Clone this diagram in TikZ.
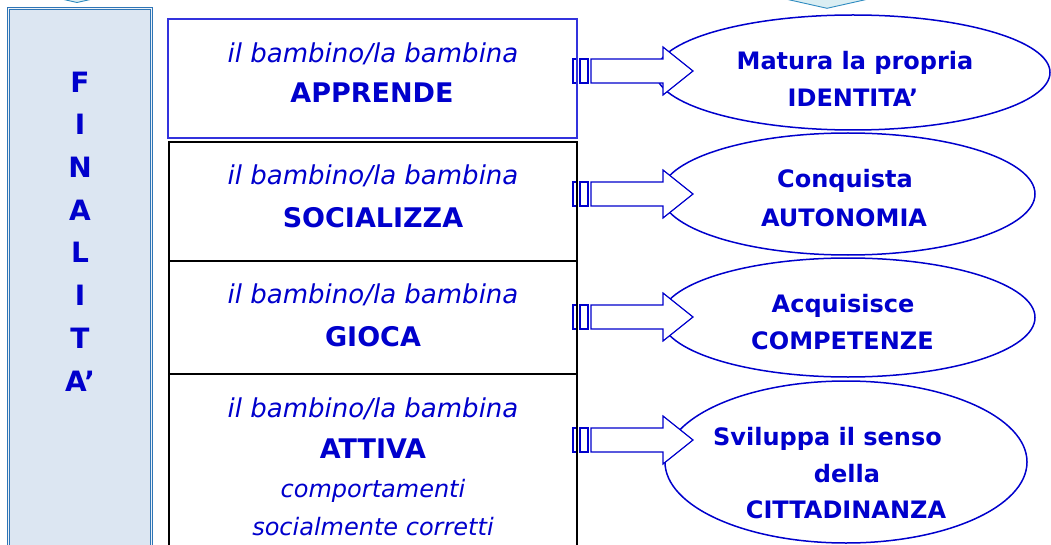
\documentclass[tikz,border=0pt]{standalone}
\usepackage{fontspec}
\setmainfont{DejaVu Sans}
\usetikzlibrary{shapes.geometric}
\definecolor{txtblue}{HTML}{0000CC}
\definecolor{boxblue}{HTML}{3333DD}
\definecolor{panelfill}{HTML}{DCE6F2}
\definecolor{panelline}{HTML}{2E75B6}
\definecolor{cyanfill}{HTML}{DAEEF3}
\definecolor{cyanline}{HTML}{2E8BC0}
\begin{document}
\begin{tikzpicture}[x=1pt,y=-1pt,
  box/.style={draw=black, line width=1.1pt, minimum width=408pt, inner sep=0pt},
  oval/.style={ellipse, draw=txtblue, line width=1.5pt, inner sep=0pt},
  ital/.style={text=txtblue, font=\fontsize{26}{30}\selectfont\itshape, anchor=base, inner sep=0pt},
  bold/.style={text=txtblue, font=\fontsize{27}{30}\selectfont\bfseries, anchor=base, inner sep=0pt},
  otext/.style={text=txtblue, font=\fontsize{24}{28}\selectfont\bfseries, anchor=base, inner sep=0pt},
  arrowline/.style={draw=txtblue, fill=white, line width=1.2pt},
  blockarr/.pic={
    \draw[arrowline] (0,-12) rectangle (4,12);
    \draw[arrowline] (7,-12) rectangle (15,12);
    \draw[arrowline] (18,-12) -- (90,-12) -- (90,-24) -- (120,0) -- (90,24) -- (90,12) -- (18,12) -- cycle;
  }
]
\useasboundingbox (0,0) rectangle (1051,545);

% partial cyan arrow tips at the top
\draw[draw=cyanline, fill=cyanfill, line width=0.9pt] (52.5,-3) -- (77,2.5) -- (101.5,-3) -- cycle;
\draw[draw=cyanline, fill=cyanfill, line width=0.9pt] (776.6,-3) -- (827,8.3) -- (877.4,-3) -- cycle;

% left panel
\node[draw=panelline, line width=0.8pt, double=white!50!panelfill, double distance=1.2pt,
      fill=panelfill, minimum width=143.4pt, minimum height=551.7pt, inner sep=0pt]
      (fin) at (80,284.15) {};
\node[text=txtblue, font=\fontsize{28}{42.7}\selectfont\bfseries, align=center,
      anchor=north, inner sep=0pt] (fintext) at (80,71.5) {F\\I\\N\\A\\L\\I\\T\\A'};

% ellipses
\node[oval, minimum width=394pt, minimum height=115pt] (e1) at (853,72.5) {};
\node[oval, minimum width=374pt, minimum height=122pt] (e2) at (848,194) {};
\node[oval, minimum width=374pt, minimum height=119pt] (e3) at (848,317.5) {};
\node[oval, minimum width=362pt, minimum height=162pt] (e4) at (846,462) {};

% block arrows
\coordinate (a1) at (573,71);
\coordinate (a2) at (573,194);
\coordinate (a3) at (573,317);
\coordinate (a4) at (573,440);
\pic at (a1) {blockarr};
\pic at (a2) {blockarr};
\pic at (a3) {blockarr};
\pic at (a4) {blockarr};

% boxes
\node[box, draw=boxblue, minimum width=409pt, minimum height=119pt] (b1) at (372.5,78.5) {};
\node[box, minimum height=119pt] (b2) at (373,201.5) {};
\node[box, minimum height=113pt] (b3) at (373,317.5) {};
\node[box, minimum height=186pt] (b4) at (373,467) {};

% box texts
\node[ital] (t1a) at (373,63) {il bambino/la bambina};
\node[bold] (t1b) at (372,103) {APPRENDE};
\node[ital] (t2a) at (373,185) {il bambino/la bambina};
\node[bold] (t2b) at (373,228) {SOCIALIZZA};
\node[ital] (t3a) at (373,303) {il bambino/la bambina};
\node[bold] (t3b) at (373,346) {GIOCA};
\node[ital] (t4a) at (373,417) {il bambino/la bambina};
\node[bold] (t4b) at (373,458) {ATTIVA};
\node[ital, font=\fontsize{24}{28}\selectfont\itshape] (t4c) at (373,497) {comportamenti};
\node[ital, font=\fontsize{24}{28}\selectfont\itshape] (t4d) at (373,535) {socialmente corretti};

% ellipse texts
\node[otext] (u1a) at (855,70) {Matura la propria};
\node[otext] (u1b) at (853,107) {IDENTITA'};
\node[otext] (u2a) at (845,188) {Conquista};
\node[otext] (u2b) at (844,226) {AUTONOMIA};
\node[otext] (u3a) at (843,312) {Acquisisce};
\node[otext] (u3b) at (842.5,349) {COMPETENZE};
\node[otext] (u4a) at (827.5,445) {Sviluppa il senso};
\node[otext] (u4b) at (847,482) {della};
\node[otext] (u4c) at (846,518) {CITTADINANZA};
\end{tikzpicture}
\end{document}
